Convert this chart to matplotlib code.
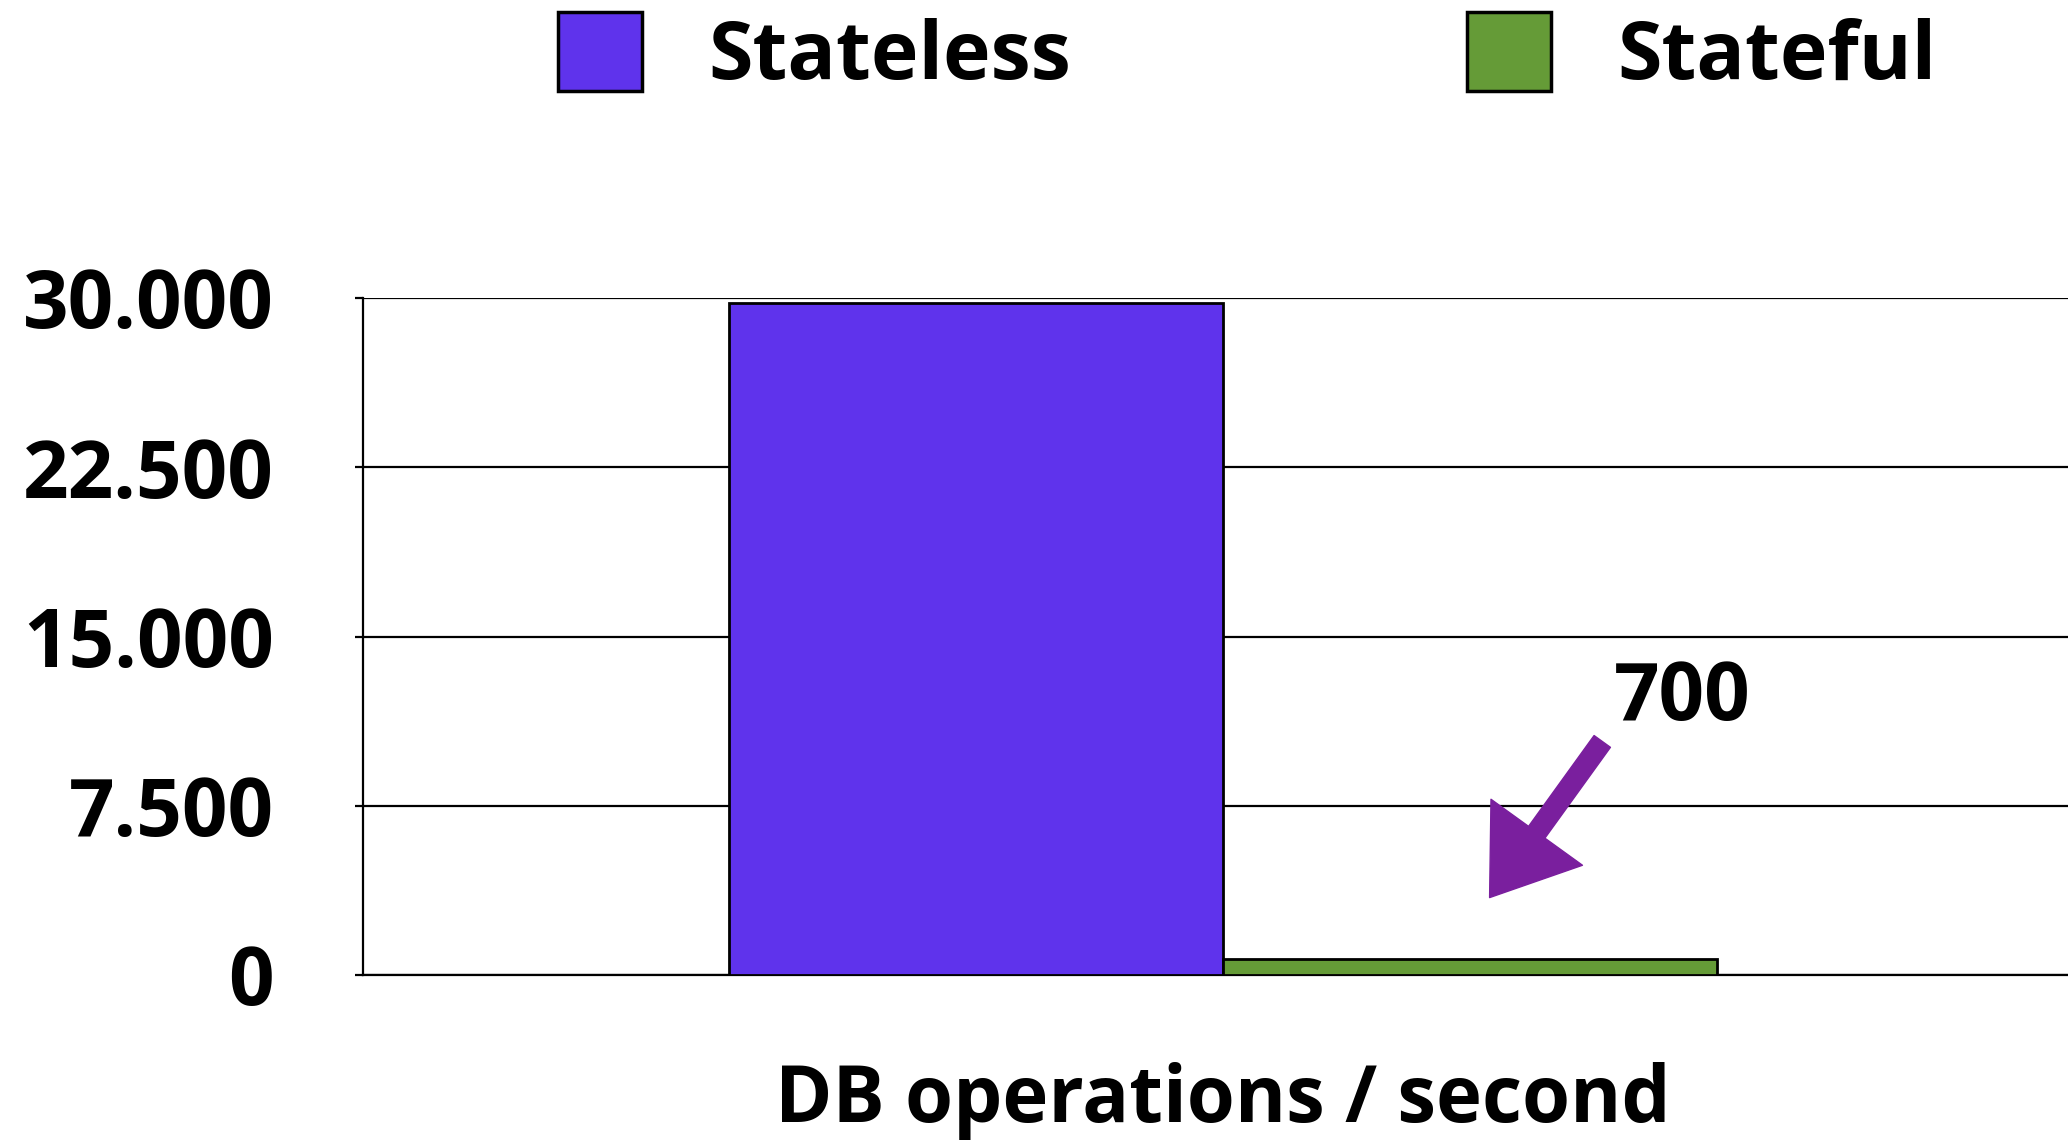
import matplotlib
matplotlib.use("Agg")
import matplotlib.pyplot as plt
from matplotlib.patches import Patch

# ---- data ----
category = ["DB operations / second"]
series_names = ["Stateless", "Stateful"]
stateless_values = [29800]
stateful_values = [700]
y_ticks = [0, 7500, 15000, 22500, 30000]
y_tick_labels = ["0", "7.500", "15.000", "22.500", "30.000"]
annotation_text = "700"

purple = "#5F33EC"
green = "#659B37"
arrow_color = "#7A1F9E"

plt.rcParams['font.family'] = ['Open Sans', 'DejaVu Sans']
plt.rcParams['font.weight'] = 'bold'

W, H = 2068, 1140
fig = plt.figure(figsize=(W / 100, H / 100), dpi=100)
ax = fig.add_axes([363 / W, 1 - 975 / H, 1720 / W, 677 / H])

bw = 0.287
x0 = 0
ax.bar([x0 - bw / 2], stateless_values, width=bw, color=purple,
       edgecolor="black", linewidth=2.0, zorder=3)
ax.bar([x0 + bw / 2], stateful_values, width=bw, color=green,
       edgecolor="black", linewidth=2.0, zorder=3)

ax.set_xlim(-0.5, 0.5)
ax.set_ylim(0, 30000)
ax.set_yticks(y_ticks)
ax.set_yticklabels(y_tick_labels, fontsize=57.5, fontweight='bold')
ax.tick_params(axis='y', direction='out', length=6, width=1.6, pad=58, color='black')
ax.set_xticks([])
ax.yaxis.grid(True, color='black', linewidth=1.6, zorder=0)
ax.set_axisbelow(True)
for s in ['top', 'right']:
    ax.spines[s].set_visible(False)
ax.spines['left'].set_linewidth(1.6)
ax.spines['bottom'].set_linewidth(1.6)

ax.set_xlabel(category[0], fontsize=56, fontweight='bold')
ax.xaxis.set_label_coords(0.5, -0.217)
ax.xaxis.label.set_va('baseline')

# annotation
ax.text(0.227, 11300, annotation_text, fontsize=57.5, fontweight='bold',
        ha='left', va='baseline')
ax.annotate("", xy=(0.155, 3430), xytext=(0.2205, 10350),
            arrowprops=dict(arrowstyle="simple,head_length=1.0,head_width=1.4,tail_width=0.25",
                            color=arrow_color, shrinkA=0, shrinkB=0, mutation_scale=58))

# legend
handles = [Patch(facecolor=purple, edgecolor='black', linewidth=2.5),
           Patch(facecolor=green, edgecolor='black', linewidth=2.5)]
fig.legend(handles, series_names, loc='center left',
           bbox_to_anchor=(558 / W, 1 - 55 / H), ncol=2, frameon=False,
           prop={'size': 58, 'weight': 'bold'}, handlelength=1.04, handleheight=1.14,
           handletextpad=0.82, columnspacing=4.92, borderpad=0, borderaxespad=0)

fig.savefig("out.png", dpi=100)
